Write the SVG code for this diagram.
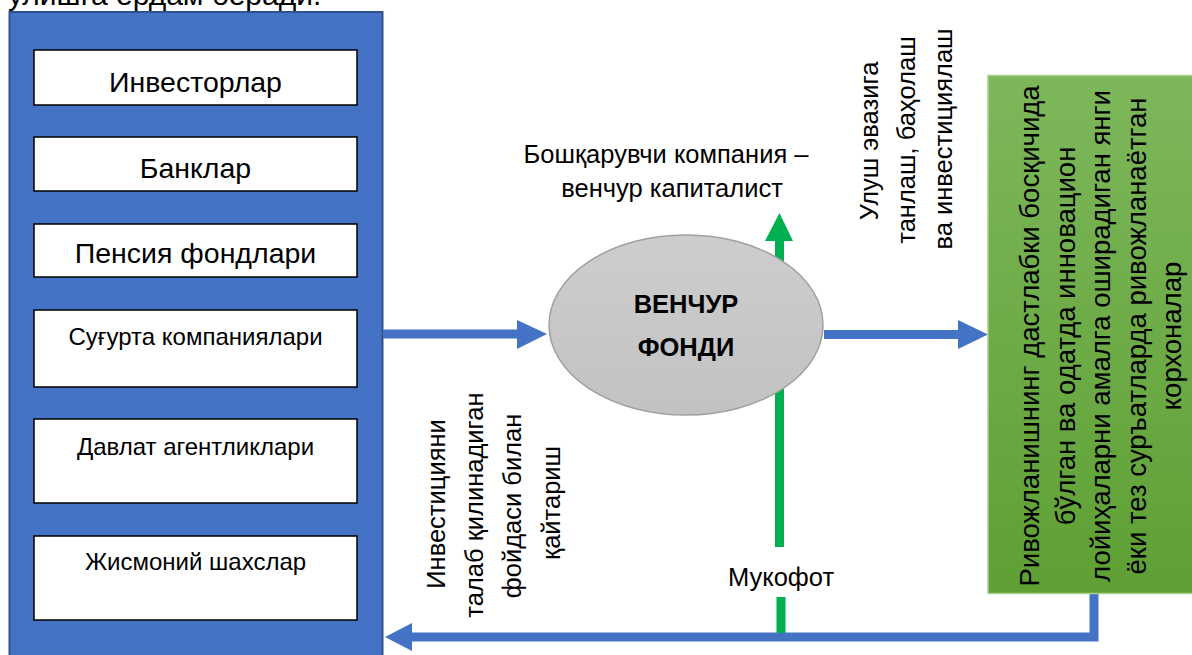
<svg xmlns="http://www.w3.org/2000/svg" width="1192" height="655" viewBox="0 0 1192 655">
<style>
text{font-family:"Liberation Sans",Arial,sans-serif;fill:#000}
.box{fill:#fff;stroke:#000;stroke-width:1.5}
.big{font-size:28.5px}
.sm{font-size:24px}
.lbl{font-size:25.5px}
.gt{font-size:27.5px}
.bold{font-size:25.5px;font-weight:bold}
.blue{stroke:#4472C4;stroke-width:9;fill:none}
</style>
<defs>
<linearGradient id="gg" x1="0" y1="0" x2="0" y2="1">
<stop offset="0" stop-color="#7DB75B"/>
<stop offset="1" stop-color="#5EA034"/>
</linearGradient>
<linearGradient id="eg" x1="0" y1="0" x2="0" y2="1">
<stop offset="0" stop-color="#CDCDCD"/>
<stop offset="1" stop-color="#C2C2C2"/>
</linearGradient>
</defs>
<text x="8" y="5" style="font-size:30px">улишга ёрдам беради.</text>
<g id="investors">
<rect x="9.5" y="12" width="373" height="650" fill="#4472C4" stroke="#2F528F" stroke-width="2"/>
<g id="n1"><rect class="box" x="34" y="50" width="323" height="55"/><text class="big" x="195.5" y="92" text-anchor="middle">Инвесторлар</text></g>
<g id="n2"><rect class="box" x="34" y="137" width="323" height="54"/><text class="big" x="195.5" y="178" text-anchor="middle">Банклар</text></g>
<g id="n3"><rect class="box" x="34" y="224" width="323" height="53"/><text class="big" x="195.5" y="263" text-anchor="middle">Пенсия фондлари</text></g>
<g id="n4"><rect class="box" x="34" y="310" width="323" height="77"/><text class="sm" x="195.5" y="345" text-anchor="middle">Суғурта компаниялари</text></g>
<g id="n5"><rect class="box" x="34" y="419" width="323" height="84"/><text class="sm" x="195.5" y="455" text-anchor="middle">Давлат агентликлари</text></g>
<g id="n6"><rect class="box" x="34" y="536" width="323" height="84"/><text class="sm" x="195.5" y="570" text-anchor="middle">Жисмоний шахслар</text></g>
</g>
<g id="connectors">
<line class="blue" x1="383" y1="334" x2="518" y2="334"/>
<polygon points="517,320 547,334 517,349" fill="#4472C4"/>
<line class="blue" x1="824" y1="334.5" x2="960" y2="334.5"/>
<polygon points="958,320 988,334.5 958,349" fill="#4472C4"/>
<polyline class="blue" points="1094,593 1094,637 410,637"/>
<polygon points="412,623 385,637 412,651" fill="#4472C4"/>
<line x1="779.5" y1="240" x2="779.5" y2="547" stroke="#00B050" stroke-width="9"/>
<line x1="781" y1="597" x2="781" y2="633" stroke="#00B050" stroke-width="9"/>
<polygon points="765,241 779.5,213 793,241" fill="#00B050"/>
</g>
<g id="fund">
<ellipse cx="686" cy="325" rx="137" ry="90" fill="url(#eg)" stroke="#A0A0A0" stroke-width="1.5"/>
<text class="bold" x="686" y="313" text-anchor="middle">ВЕНЧУР</text>
<text class="bold" x="686" y="356" text-anchor="middle">ФОНДИ</text>
</g>
<g id="manager">
<text class="lbl" x="666" y="163" text-anchor="middle">Бошқарувчи компания –</text>
<text class="lbl" x="672" y="197" text-anchor="middle">венчур капиталист</text>
</g>
<g id="label-invest" class="lbl" text-anchor="middle">
<text transform="translate(878,141) rotate(-90)">Улуш эвазига</text>
<text transform="translate(915,140) rotate(-90)">танлаш, баҳолаш</text>
<text transform="translate(952,139) rotate(-90)">ва инвестициялаш</text>
</g>
<g id="label-return" class="lbl" text-anchor="middle">
<text transform="translate(445,504) rotate(-90)">Инвестицияни</text>
<text transform="translate(483,505) rotate(-90)">талаб қилинадиган</text>
<text transform="translate(521,506) rotate(-90)">фойдаси билан</text>
<text transform="translate(560,503) rotate(-90)">қайтариш</text>
</g>
<g id="reward">
<text class="lbl" x="781" y="586" text-anchor="middle">Мукофот</text>
</g>
<g id="companies">
<rect x="988" y="75.5" width="210" height="518" fill="url(#gg)" stroke="#A9D18E" stroke-width="1.5"/>
<g class="gt" text-anchor="middle">
<text transform="translate(1039,336) rotate(-90)">Ривожланишнинг дастлабки босқичида</text>
<text transform="translate(1075,336) rotate(-90)">бўлган ва одатда инновацион</text>
<text transform="translate(1110,336) rotate(-90)">лойиҳаларни амалга оширадиган янги</text>
<text transform="translate(1146,336) rotate(-90)">ёки тез суръатларда ривожланаётган</text>
<text transform="translate(1181,336) rotate(-90)">корхоналар</text>
</g>
</g>
</svg>
